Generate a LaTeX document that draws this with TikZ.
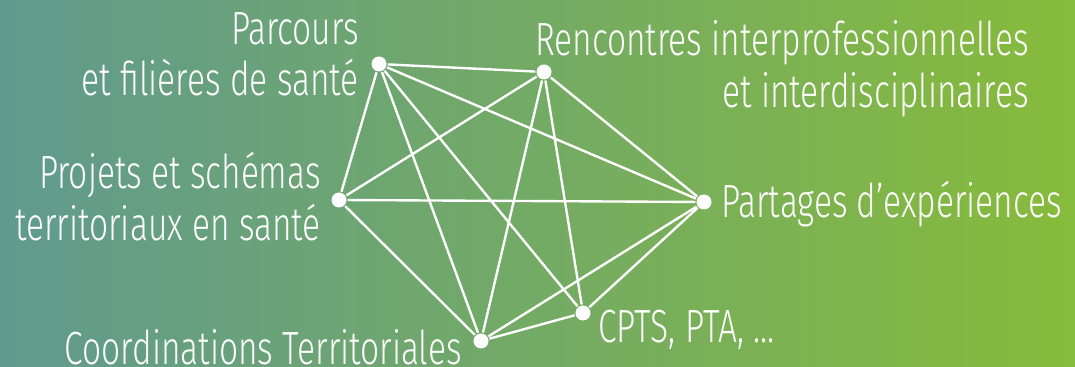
\documentclass[tikz,border=0pt]{standalone}
\usepackage{fontspec}
\setmainfont{Fira Sans Light}[FakeStretch=0.72]
\usepackage{tikz}
\definecolor{gruenlinks}{RGB}{96,154,142}
\definecolor{gruenmitte}{RGB}{118,172,106}
\definecolor{gruenrechts}{RGB}{135,187,59}
\tikzset{knoten/.style={circle,fill=white,inner sep=0pt,minimum size=0.3cm}}
\tikzset{beschriftung/.style={text=white,inner sep=0pt,align=right,font=\fontsize{26.5}{29.5}\selectfont}}

\begin{document}
\begin{tikzpicture}[x=0.02cm,y=-0.02cm,line width=1.35pt]
    \shade[left color=gruenlinks,middle color=gruenmitte,right color=gruenrechts] (0,0) rectangle (1075,367);

    \path node [knoten] (1) at (379,64) {}
          node [knoten] (2) at (544,72) {}
          node [knoten] (3) at (704,202) {}
          node [knoten] (4) at (583,313) {}
          node [knoten] (5) at (481,341) {}
          node [knoten] (6) at (339,200) {};

    \path[draw=white]
         (1) edge (2)
         (1) edge (3)
         (1) edge (4)
         (1) edge (5)
         (1) edge (6)
         (2) edge (3)
         (2) edge (4)
         (2) edge (5)
         (2) edge (6)
         (3) edge (4)
         (3) edge (5)
         (3) edge (6)
         (4) edge (5)
         (5) edge (6);

    \node [beschriftung, anchor=north east] (t1) at (360,11) {Parcours\\et filières de santé};
    \node [beschriftung, anchor=north east] (t2) at (1030,19) {Rencontres interprofessionnelles\\et interdisciplinaires};
    \node [beschriftung, anchor=base west] (t3) at (720,218) {Partages d’expériences};
    \node [beschriftung, anchor=base west] (t4) at (597,343) {CPTS, PTA, …};
    \node [beschriftung, anchor=base east] (t5) at (463,365) {Coordinations Territoriales};
    \node [beschriftung, anchor=north east] (t6) at (322,151) {Projets et schémas\\territoriaux en santé};
\end{tikzpicture}
\end{document}
